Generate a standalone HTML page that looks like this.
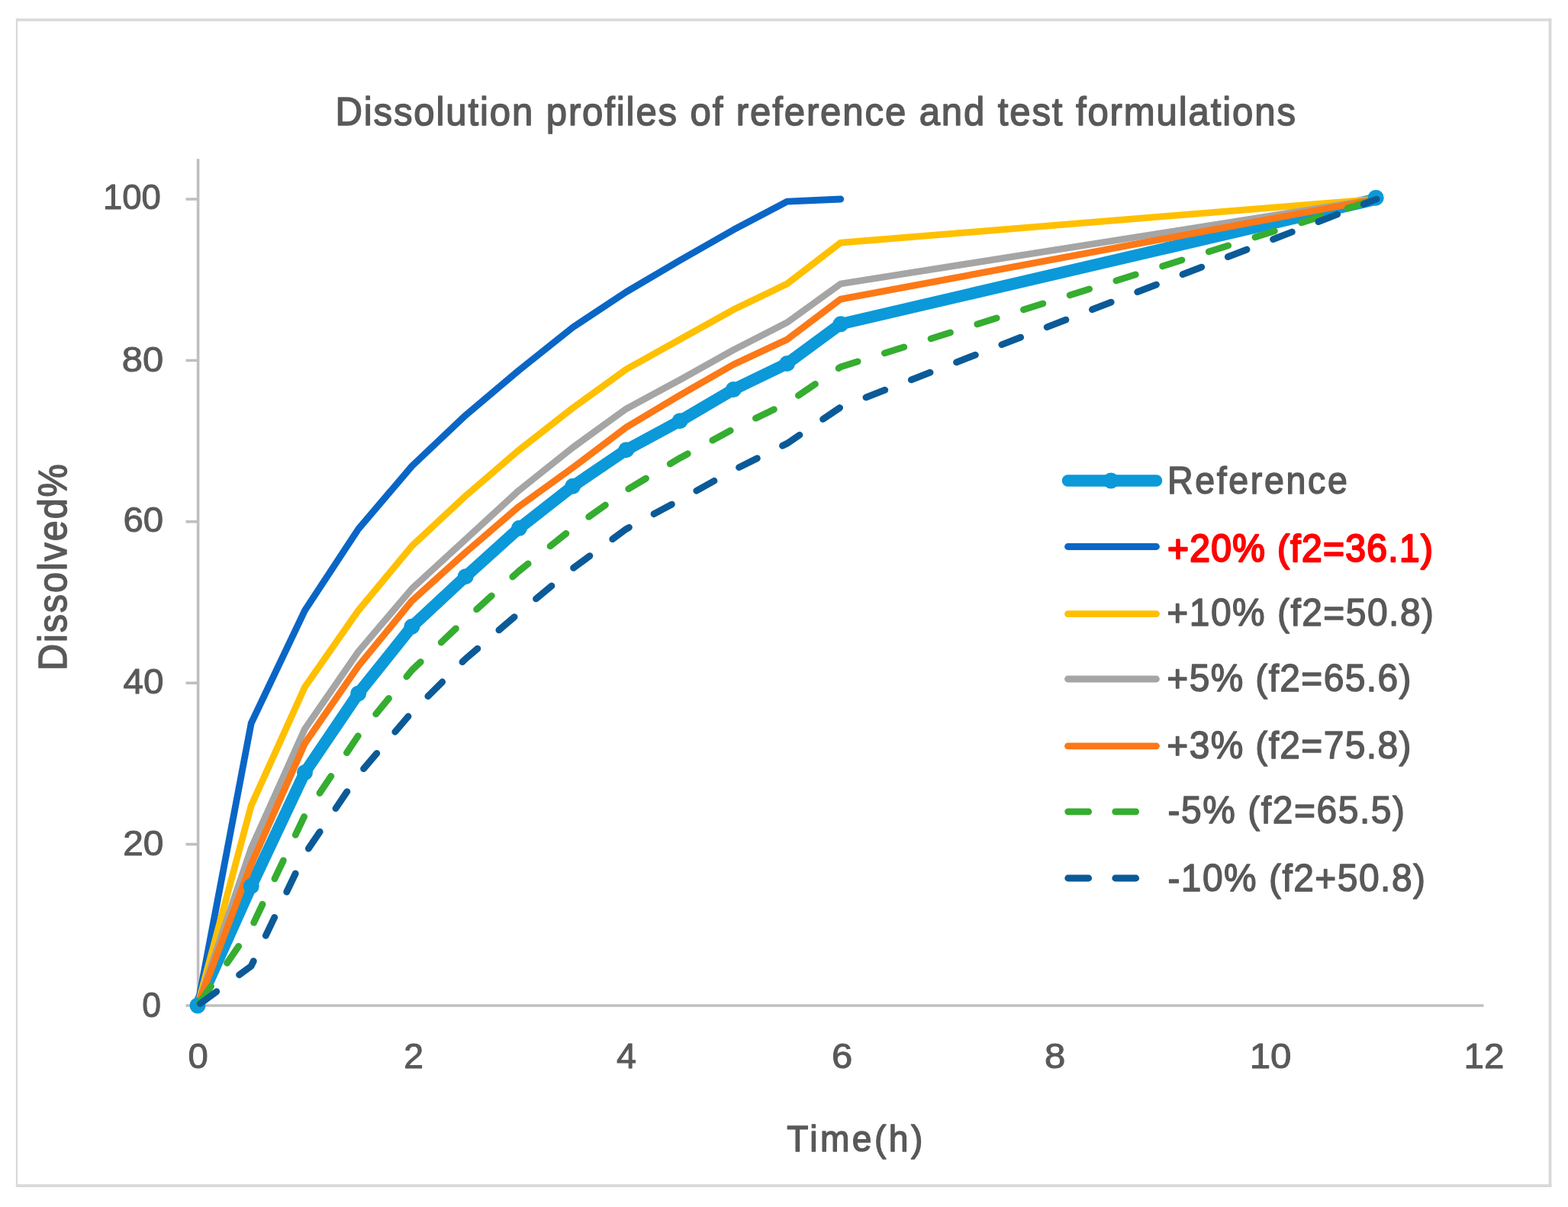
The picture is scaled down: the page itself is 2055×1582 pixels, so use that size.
<!DOCTYPE html>
<html><head><meta charset="utf-8"><title>Dissolution profiles of reference and test formulations</title>
<style>html,body{margin:0;padding:0;background:#fff;width:2055px;height:1582px;overflow:hidden}svg{display:block;filter:blur(0.6px);}</style>
</head><body>
<svg width="2055" height="1582" viewBox="0 0 2055 1582"><rect x="0" y="0" width="2055" height="1582" fill="#fff"/><g fill="#d9d9d9"><rect x="20.9" y="24.3" width="2012.5" height="3.5"/><rect x="20.9" y="24.3" width="2.2" height="1531.7"/><rect x="2029.6" y="24.3" width="3.8" height="1531.7"/><rect x="20.9" y="1552.2" width="2012.5" height="3.8"/></g><line x1="259.6" y1="208.3" x2="259.6" y2="1319.5" stroke="#bfbfbf" stroke-width="3.6"/><line x1="258" y1="1318" x2="1944.5" y2="1318" stroke="#bfbfbf" stroke-width="3.6"/><line x1="243.5" y1="1318.0" x2="259" y2="1318.0" stroke="#bfbfbf" stroke-width="3.6"/><line x1="243.5" y1="1106.6" x2="259" y2="1106.6" stroke="#bfbfbf" stroke-width="3.6"/><line x1="243.5" y1="895.2" x2="259" y2="895.2" stroke="#bfbfbf" stroke-width="3.6"/><line x1="243.5" y1="683.8" x2="259" y2="683.8" stroke="#bfbfbf" stroke-width="3.6"/><line x1="243.5" y1="472.4" x2="259" y2="472.4" stroke="#bfbfbf" stroke-width="3.6"/><line x1="243.5" y1="261.0" x2="259" y2="261.0" stroke="#bfbfbf" stroke-width="3.6"/><text x="0" y="0" transform="translate(439.40,163.50) scale(0.95,1)" font-family="'Liberation Sans', Arial, sans-serif" font-size="51.69" fill="#595959" stroke="#595959" stroke-width="1.5" stroke-linejoin="round" textLength="1324.84" lengthAdjust="spacing">Dissolution profiles of reference and test formulations</text><text x="134.90" y="274.30" font-family="'Liberation Sans', Arial, sans-serif" font-size="46.50" fill="#595959" stroke="#595959" stroke-width="1.0" stroke-linejoin="round" textLength="76.00" lengthAdjust="spacingAndGlyphs">100</text><text x="159.80" y="486.50" font-family="'Liberation Sans', Arial, sans-serif" font-size="46.50" fill="#595959" stroke="#595959" stroke-width="1.0" stroke-linejoin="round" textLength="54.40" lengthAdjust="spacingAndGlyphs">80</text><text x="161.40" y="696.60" font-family="'Liberation Sans', Arial, sans-serif" font-size="46.50" fill="#595959" stroke="#595959" stroke-width="1.0" stroke-linejoin="round" textLength="52.70" lengthAdjust="spacingAndGlyphs">60</text><text x="161.40" y="909.00" font-family="'Liberation Sans', Arial, sans-serif" font-size="46.50" fill="#595959" stroke="#595959" stroke-width="1.0" stroke-linejoin="round" textLength="53.00" lengthAdjust="spacingAndGlyphs">40</text><text x="161.20" y="1120.50" font-family="'Liberation Sans', Arial, sans-serif" font-size="46.50" fill="#595959" stroke="#595959" stroke-width="1.0" stroke-linejoin="round" textLength="53.20" lengthAdjust="spacingAndGlyphs">20</text><text x="186.20" y="1333.10" font-family="'Liberation Sans', Arial, sans-serif" font-size="46.50" fill="#595959" stroke="#595959" stroke-width="1.0" stroke-linejoin="round" textLength="24.80" lengthAdjust="spacingAndGlyphs">0</text><text x="246.40" y="1399.60" font-family="'Liberation Sans', Arial, sans-serif" font-size="46.50" fill="#595959" stroke="#595959" stroke-width="1.0" stroke-linejoin="round" textLength="26.30" lengthAdjust="spacingAndGlyphs">0</text><text x="529.20" y="1400.00" font-family="'Liberation Sans', Arial, sans-serif" font-size="46.50" fill="#595959" stroke="#595959" stroke-width="1.0" stroke-linejoin="round" textLength="25.80" lengthAdjust="spacingAndGlyphs">2</text><text x="808.10" y="1400.00" font-family="'Liberation Sans', Arial, sans-serif" font-size="46.50" fill="#595959" stroke="#595959" stroke-width="1.0" stroke-linejoin="round" textLength="26.00" lengthAdjust="spacingAndGlyphs">4</text><text x="1090.10" y="1400.00" font-family="'Liberation Sans', Arial, sans-serif" font-size="46.50" fill="#595959" stroke="#595959" stroke-width="1.0" stroke-linejoin="round" textLength="27.30" lengthAdjust="spacingAndGlyphs">6</text><text x="1369.10" y="1400.00" font-family="'Liberation Sans', Arial, sans-serif" font-size="46.50" fill="#595959" stroke="#595959" stroke-width="1.0" stroke-linejoin="round" textLength="27.30" lengthAdjust="spacingAndGlyphs">8</text><text x="1637.70" y="1399.70" font-family="'Liberation Sans', Arial, sans-serif" font-size="46.50" fill="#595959" stroke="#595959" stroke-width="1.0" stroke-linejoin="round" textLength="54.80" lengthAdjust="spacingAndGlyphs">10</text><text x="1918.60" y="1399.70" font-family="'Liberation Sans', Arial, sans-serif" font-size="46.50" fill="#595959" stroke="#595959" stroke-width="1.0" stroke-linejoin="round" textLength="52.80" lengthAdjust="spacingAndGlyphs">12</text><text x="0" y="0" transform="translate(1031.20,1509.40) scale(0.95,1)" font-family="'Liberation Sans', Arial, sans-serif" font-size="48.55" fill="#595959" stroke="#595959" stroke-width="1.5" stroke-linejoin="round" textLength="187.58" lengthAdjust="spacing">Time(h)</text><text x="0" y="0" transform="translate(87.40,879.00) rotate(-90) scale(0.95,1)" font-family="'Liberation Sans', Arial, sans-serif" font-size="51.22" fill="#595959" stroke="#595959" stroke-width="1.5" stroke-linejoin="round" textLength="285.05" lengthAdjust="spacing">Dissolved%</text><text x="0" y="0" transform="translate(1530.00,647.00) scale(0.95,1)" font-family="'Liberation Sans', Arial, sans-serif" font-size="49.03" fill="#595959" stroke="#595959" stroke-width="1.5" stroke-linejoin="round" textLength="248.21" lengthAdjust="spacing">Reference</text><text x="0" y="0" transform="translate(1529.90,735.50) scale(0.95,1)" font-family="'Liberation Sans', Arial, sans-serif" font-size="50.46" fill="#ff0000" stroke="#ff0000" stroke-width="2.3" stroke-linejoin="round" textLength="366.42" lengthAdjust="spacing">+20% (f2=36.1)</text><text x="0" y="0" transform="translate(1529.30,820.20) scale(0.95,1)" font-family="'Liberation Sans', Arial, sans-serif" font-size="50.46" fill="#595959" stroke="#595959" stroke-width="1.5" stroke-linejoin="round" textLength="368.11" lengthAdjust="spacing">+10% (f2=50.8)</text><text x="0" y="0" transform="translate(1529.30,905.50) scale(0.95,1)" font-family="'Liberation Sans', Arial, sans-serif" font-size="50.46" fill="#595959" stroke="#595959" stroke-width="1.5" stroke-linejoin="round" textLength="336.95" lengthAdjust="spacing">+5% (f2=65.6)</text><text x="0" y="0" transform="translate(1529.30,993.90) scale(0.95,1)" font-family="'Liberation Sans', Arial, sans-serif" font-size="50.46" fill="#595959" stroke="#595959" stroke-width="1.5" stroke-linejoin="round" textLength="336.95" lengthAdjust="spacing">+3% (f2=75.8)</text><text x="0" y="0" transform="translate(1530.40,1079.30) scale(0.95,1)" font-family="'Liberation Sans', Arial, sans-serif" font-size="50.46" fill="#595959" stroke="#595959" stroke-width="1.5" stroke-linejoin="round" textLength="326.95" lengthAdjust="spacing">-5% (f2=65.5)</text><text x="0" y="0" transform="translate(1530.40,1167.50) scale(0.95,1)" font-family="'Liberation Sans', Arial, sans-serif" font-size="50.46" fill="#595959" stroke="#595959" stroke-width="1.5" stroke-linejoin="round" textLength="355.37" lengthAdjust="spacing">-10% (f2+50.8)</text><polyline points="259.0,1318.0 329.2,1161.6 399.5,1012.5 469.7,908.9 539.9,821.2 610.2,755.7 680.4,692.3 750.6,637.3 820.8,589.7 891.1,551.7 961.3,510.5 1031.5,476.6 1101.8,424.8 1804.1,261.0" fill="none" stroke="#0b99d9" stroke-width="15.5" stroke-linecap="round" stroke-linejoin="round"/><polyline points="259.0,1318.0 329.2,948.0 399.5,800.1 469.7,693.3 539.9,610.9 610.2,544.3 680.4,485.1 750.6,429.1 820.8,382.6 891.1,341.3 961.3,301.2 1031.5,264.2 1101.8,261.0" fill="none" stroke="#0a66c6" stroke-width="8.8" stroke-linecap="round" stroke-linejoin="round"/><polyline points="259.0,1318.0 329.2,1055.9 399.5,900.5 469.7,800.1 539.9,715.5 610.2,650.0 680.4,589.7 750.6,534.8 820.8,484.0 891.1,444.9 961.3,405.8 1031.5,372.0 1101.8,318.1 1804.1,261.0" fill="none" stroke="#ffc000" stroke-width="8.8" stroke-linecap="round" stroke-linejoin="round"/><polyline points="259.0,1318.0 329.2,1111.9 399.5,955.4 469.7,854.0 539.9,771.5 610.2,707.1 680.4,642.6 750.6,586.6 820.8,535.8 891.1,497.8 961.3,458.7 1031.5,422.7 1101.8,372.0 1804.1,261.0" fill="none" stroke="#a5a5a5" stroke-width="8.8" stroke-linecap="round" stroke-linejoin="round"/><polyline points="259.0,1318.0 329.2,1133.0 399.5,974.5 469.7,873.0 539.9,787.4 610.2,724.0 680.4,663.7 750.6,613.0 820.8,560.1 891.1,517.9 961.3,477.7 1031.5,444.9 1101.8,392.1 1804.1,261.0" fill="none" stroke="#fd7816" stroke-width="8.8" stroke-linecap="round" stroke-linejoin="round"/><circle cx="259.0" cy="1318.0" r="10.5" fill="#0b99d9"/><circle cx="329.2" cy="1161.6" r="10.5" fill="#0b99d9"/><circle cx="399.5" cy="1012.5" r="10.5" fill="#0b99d9"/><circle cx="469.7" cy="908.9" r="10.5" fill="#0b99d9"/><circle cx="539.9" cy="821.2" r="10.5" fill="#0b99d9"/><circle cx="610.2" cy="755.7" r="10.5" fill="#0b99d9"/><circle cx="680.4" cy="692.3" r="10.5" fill="#0b99d9"/><circle cx="750.6" cy="637.3" r="10.5" fill="#0b99d9"/><circle cx="820.8" cy="589.7" r="10.5" fill="#0b99d9"/><circle cx="891.1" cy="551.7" r="10.5" fill="#0b99d9"/><circle cx="961.3" cy="510.5" r="10.5" fill="#0b99d9"/><circle cx="1031.5" cy="476.6" r="10.5" fill="#0b99d9"/><circle cx="1101.8" cy="424.8" r="10.5" fill="#0b99d9"/><circle cx="1803.2" cy="259.2" r="10.5" fill="#0b99d9"/><polyline points="259.0,1318.0 329.2,1216.5 399.5,1068.5 469.7,963.9 539.9,878.3 610.2,811.7 680.4,748.3 750.6,692.3 820.8,642.6 891.1,600.3 961.3,562.2 1031.5,528.4 1101.8,480.9 1804.1,261.0" fill="none" stroke="#35ad30" stroke-width="8.8" stroke-linecap="round" stroke-linejoin="round" stroke-dasharray="26.6 37" stroke-dashoffset="-4.2"/><polyline points="259.0,1318.0 329.2,1266.2 399.5,1119.3 469.7,1015.7 539.9,933.3 610.2,863.5 680.4,803.2 750.6,745.1 820.8,693.3 891.1,655.3 961.3,616.2 1031.5,581.3 1101.8,533.7 1804.1,261.0" fill="none" stroke="#0b5a98" stroke-width="8.8" stroke-linecap="round" stroke-linejoin="round" stroke-dasharray="26.6 37" stroke-dashoffset="-4.2"/><line x1="1399.5" y1="630" x2="1515.5" y2="630" stroke="#0b99d9" stroke-width="15.5" stroke-linecap="round"/><circle cx="1456" cy="630" r="10.5" fill="#0b99d9"/><line x1="1399.5" y1="716.5" x2="1515.5" y2="716.5" stroke="#0a66c6" stroke-width="8.8" stroke-linecap="round"/><line x1="1399.5" y1="804.6" x2="1515.5" y2="804.6" stroke="#ffc000" stroke-width="8.8" stroke-linecap="round"/><line x1="1399.5" y1="890" x2="1515.5" y2="890" stroke="#a5a5a5" stroke-width="8.8" stroke-linecap="round"/><line x1="1399.5" y1="977.8" x2="1515.5" y2="977.8" stroke="#fd7816" stroke-width="8.8" stroke-linecap="round"/><line x1="1399.7" y1="1063.8" x2="1489" y2="1063.8" stroke="#35ad30" stroke-width="8.8" stroke-linecap="round" stroke-dasharray="27 35"/><line x1="1399.7" y1="1151" x2="1489" y2="1151" stroke="#0b5a98" stroke-width="8.8" stroke-linecap="round" stroke-dasharray="27 35"/></svg>
</body></html>
